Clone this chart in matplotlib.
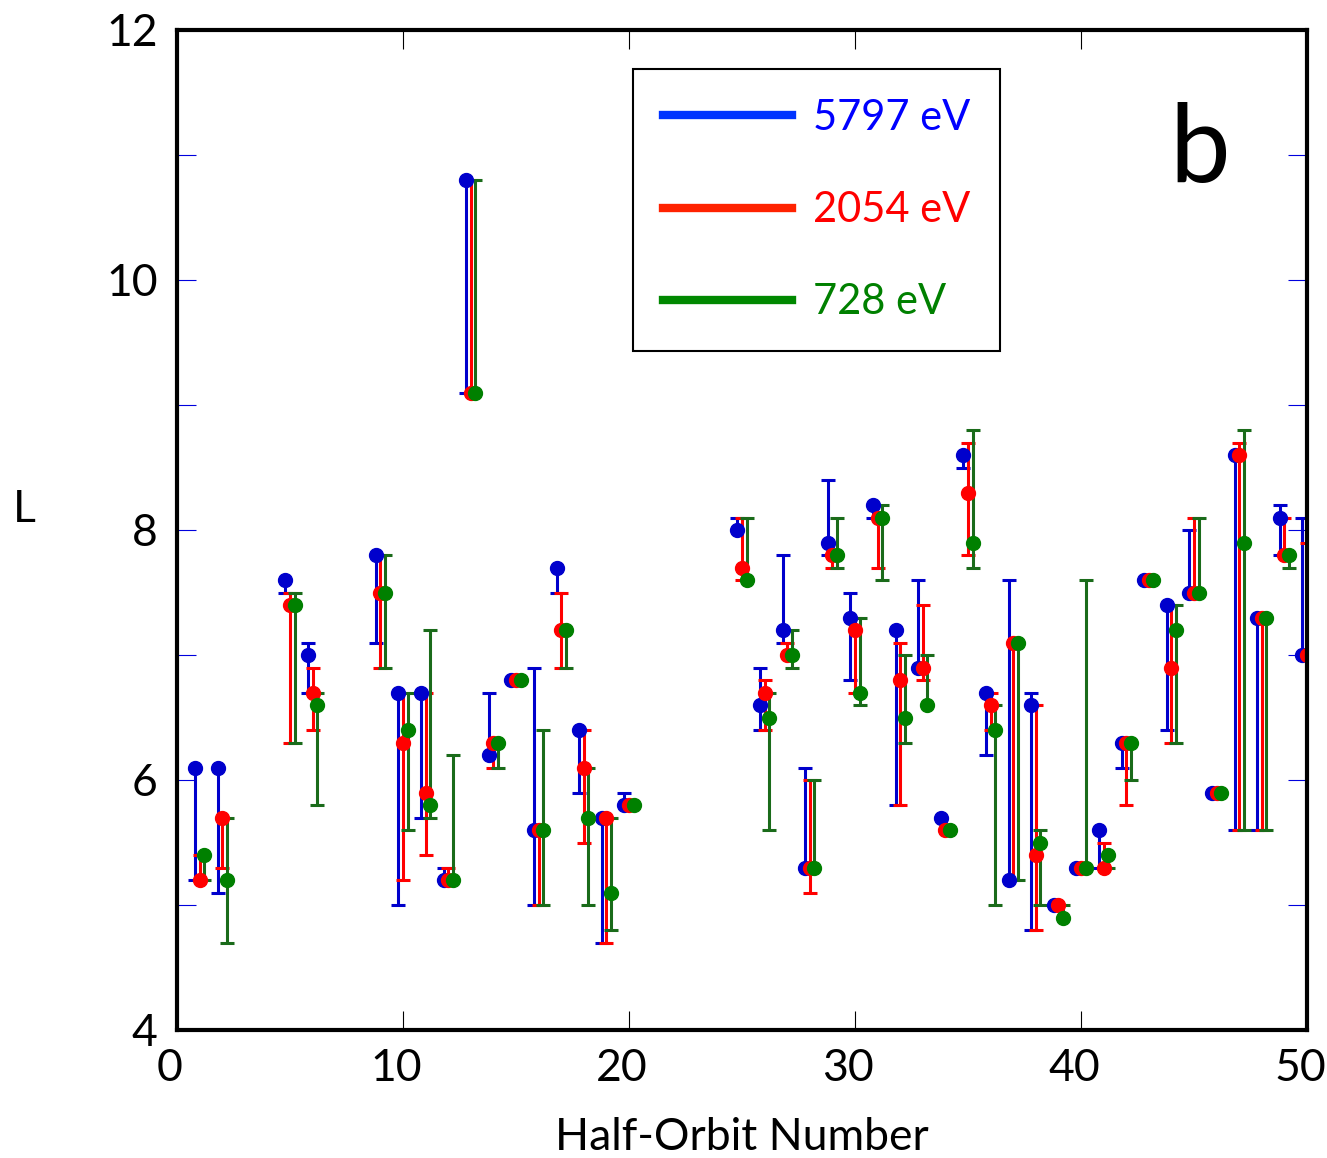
import numpy as np
import matplotlib
matplotlib.use('Agg')
import matplotlib.pyplot as plt
import matplotlib.transforms as mtransforms
from matplotlib.lines import Line2D

plt.rcParams['font.family'] = ['Lato', 'DejaVu Sans']

# half-orbit numbers
orbit = [1, 2, 5, 6, 9, 10, 11, 12, 13, 14, 15, 16, 17, 18, 19, 20,
         25, 26, 27, 28, 29, 30, 31, 32, 33, 34, 35, 36, 37, 38, 39, 40,
         41, 42, 43, 44, 45, 46, 47, 48, 49, 50]

# 5797 eV
blue_val = [6.1, 6.1, 7.6, 7.0, 7.8, 6.7, 6.7, 5.2, 10.8, 6.2, 6.8, 5.6, 7.7, 6.4, 5.7, 5.8,
            8.0, 6.6, 7.2, 5.3, 7.9, 7.3, 8.2, 7.2, 6.9, 5.7, 8.6, 6.7, 5.2, 6.6, 5.0, 5.3,
            5.6, 6.3, 7.6, 7.4, 7.5, 5.9, 8.6, 7.3, 8.1, 7.0]
blue_lo = [5.2, 5.1, 7.5, 6.7, 7.1, 5.0, 5.7, 5.2, 9.1, 6.2, 6.8, 5.0, 7.5, 5.9, 4.7, 5.8,
           8.0, 6.4, 7.1, 5.3, 7.8, 6.8, 8.1, 5.8, 6.9, 5.7, 8.5, 6.2, 5.2, 4.8, 5.0, 5.3,
           5.3, 6.1, 7.6, 6.4, 7.5, 5.9, 5.6, 5.6, 7.8, 7.0]
blue_hi = [6.1, 6.1, 7.6, 7.1, 7.8, 6.7, 6.7, 5.3, 10.8, 6.7, 6.8, 6.9, 7.7, 6.4, 5.7, 5.9,
           8.1, 6.9, 7.8, 6.1, 8.4, 7.5, 8.2, 7.2, 7.6, 5.7, 8.6, 6.7, 7.6, 6.7, 5.0, 5.3,
           5.6, 6.3, 7.6, 7.4, 8.0, 5.9, 8.6, 7.3, 8.2, 8.1]

# 2054 eV
red_val = [5.2, 5.7, 7.4, 6.7, 7.5, 6.3, 5.9, 5.2, 9.1, 6.3, 6.8, 5.6, 7.2, 6.1, 5.7, 5.8,
           7.7, 6.7, 7.0, 5.3, 7.8, 7.2, 8.1, 6.8, 6.9, 5.6, 8.3, 6.6, 7.1, 5.4, 5.0, 5.3,
           5.3, 6.3, 7.6, 6.9, 7.5, 5.9, 8.6, 7.3, 7.8, 7.0]
red_lo = [5.2, 5.3, 6.3, 6.4, 6.9, 5.2, 5.4, 5.2, 9.1, 6.1, 6.8, 5.0, 6.9, 5.5, 4.7, 5.8,
          7.6, 6.4, 7.0, 5.1, 7.7, 6.7, 7.7, 5.8, 6.8, 5.6, 7.8, 6.4, 5.2, 4.8, 5.0, 5.3,
          5.3, 5.8, 7.6, 6.3, 7.5, 5.9, 5.6, 5.6, 7.8, 7.0]
red_hi = [5.4, 5.7, 7.5, 6.9, 7.8, 6.7, 6.7, 5.3, 10.8, 6.3, 6.8, 5.6, 7.5, 6.4, 5.7, 5.8,
          8.1, 6.8, 7.1, 6.0, 7.8, 7.3, 8.1, 7.1, 7.4, 5.6, 8.7, 6.7, 7.1, 6.6, 5.0, 5.3,
          5.5, 6.3, 7.6, 7.4, 8.1, 5.9, 8.7, 7.3, 8.1, 7.9]

# 728 eV
green_val = [5.4, 5.2, 7.4, 6.6, 7.5, 6.4, 5.8, 5.2, 9.1, 6.3, 6.8, 5.6, 7.2, 5.7, 5.1, 5.8,
             7.6, 6.5, 7.0, 5.3, 7.8, 6.7, 8.1, 6.5, 6.6, 5.6, 7.9, 6.4, 7.1, 5.5, 4.9, 5.3,
             5.4, 6.3, 7.6, 7.2, 7.5, 5.9, 7.9, 7.3, 7.8, 7.0]
green_lo = [5.2, 4.7, 6.3, 5.8, 6.9, 5.6, 5.7, 5.2, 9.1, 6.1, 6.8, 5.0, 6.9, 5.0, 4.8, 5.8,
            7.6, 5.6, 6.9, 5.3, 7.7, 6.6, 7.6, 6.3, 6.6, 5.6, 7.7, 5.0, 5.2, 5.0, 4.9, 5.3,
            5.3, 6.0, 7.6, 6.3, 7.5, 5.9, 5.6, 5.6, 7.7, 6.3]
green_hi = [5.4, 5.7, 7.5, 6.7, 7.8, 6.7, 7.2, 6.2, 10.8, 6.3, 6.8, 6.4, 7.2, 6.1, 5.7, 5.8,
            8.1, 6.7, 7.2, 6.0, 8.1, 7.3, 8.2, 7.0, 7.0, 5.6, 8.8, 6.6, 7.1, 5.6, 5.0, 7.6,
            5.4, 6.3, 7.6, 7.4, 8.1, 5.9, 8.8, 7.3, 7.8, 7.0]

labels = ['5797 eV', '2054 eV', '728 eV']

fig = plt.figure(figsize=(13.27, 11.58), dpi=100, facecolor='w')
ax = fig.add_axes([177/1327, 1-1030/1158, 1130/1327, 1000/1158])

series = [
    (blue_val, blue_lo, blue_hi, -0.2, '#0000cc', '#0000cc'),
    (red_val, red_lo, red_hi, 0.0, '#ff0000', '#ff0000'),
    (green_val, green_lo, green_hi, 0.2, '#1a6b1a', '#008000'),
]
x = np.array(orbit, dtype=float)
for val, lo, hi, dx, ecol, mcol in series:
    v = np.array(val)
    yerr = [v - np.array(lo), np.array(hi) - v]
    ax.errorbar(x + dx, v, yerr=yerr, fmt='o', color=mcol, ecolor=ecol,
                markersize=10, mec=mcol, elinewidth=2.2,
                capsize=5, capthick=2.2)

ax.set_xlim(0, 50)
ax.set_ylim(4, 12)
ax.set_xticks(np.arange(0, 51, 10))
ax.set_yticks(np.arange(4, 13, 2))
ax.set_yticks(np.arange(5, 12, 2), minor=True)
ax.tick_params(axis='x', which='both', direction='in', top=True, length=14,
               width=0.8, color='k', labelsize=32, pad=13)
ax.tick_params(axis='y', which='both', direction='in', right=True, length=14,
               width=0.8, color='#0000dd', labelsize=32, pad=14)
for s in ax.spines.values():
    s.set_linewidth(3)

# x tick labels sit a little left of their ticks
shift = mtransforms.ScaledTranslation(-7/100, 0, fig.dpi_scale_trans)
for lab in ax.get_xticklabels():
    lab.set_transform(lab.get_transform() + shift)

ax.set_xlabel('Half-Orbit Number', fontsize=32, labelpad=20)
fig.text(24/1327, 1-510/1158, 'L', fontsize=32, ha='center', va='center')
fig.text(1200/1327, 1-182/1158, 'b', fontsize=78, ha='center', va='baseline')

handles = [Line2D([], [], color=c, lw=6) for c in ['#0033ff', '#ff2200', '#008800']]
leg = ax.legend(handles, labels, loc='upper left',
                bbox_to_anchor=((633-177)/1130, (1030-69)/1000),
                borderaxespad=0, fontsize=30, handlelength=3.1, handletextpad=0.5,
                labelspacing=1.3, borderpad=0.72, fancybox=False, framealpha=1,
                edgecolor='k')
leg.get_frame().set_linewidth(1.5)
for t, c in zip(leg.get_texts(), ['#0000ff', '#ff0000', '#008000']):
    t.set_color(c)

fig.savefig('out.png', dpi=100)
